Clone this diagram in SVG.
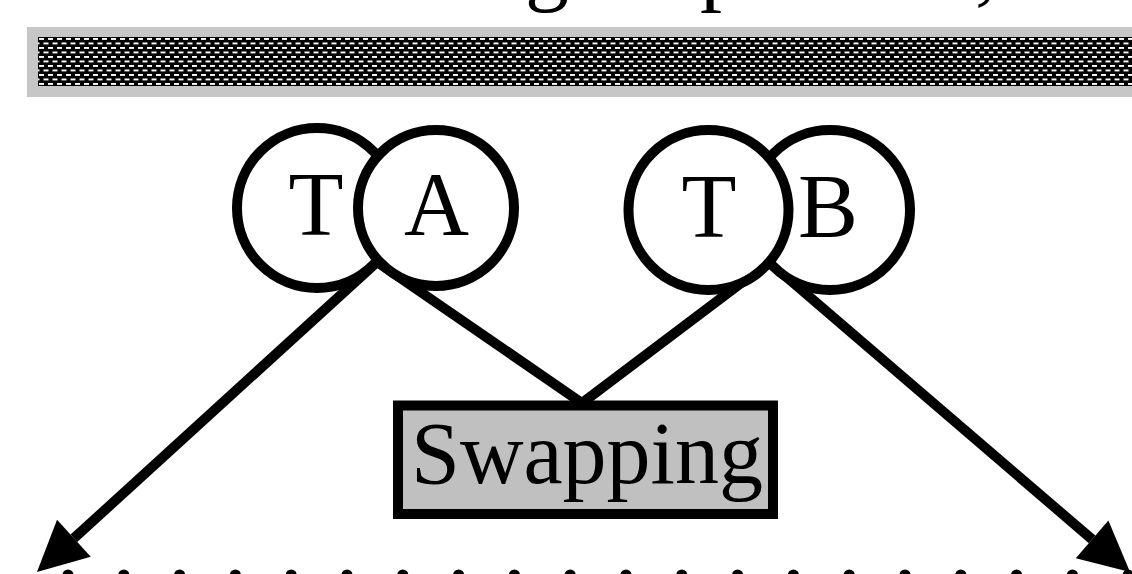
<svg xmlns="http://www.w3.org/2000/svg" width="1132" height="574" viewBox="0 0 1132 574">
  <style>
    .lbl { font-family: "Liberation Serif", "Times New Roman", serif; fill: #000; text-anchor: middle; }
    .top { font-family: "Liberation Serif", "Times New Roman", serif; fill: #000; font-size: 88px; }
    .circ { fill: #fff; stroke: #000; stroke-width: 10; }
    .conn { fill: none; stroke: #000; stroke-width: 10; }
  </style>
  <defs>
    <pattern id="dither" x="38" y="37" width="9" height="9" patternUnits="userSpaceOnUse">
      <rect width="9" height="9" fill="#000"/>
      <rect x="1" y="1" width="5" height="1.9" fill="#fff"/>
      <rect x="5.5" y="5.5" width="5" height="1.9" fill="#fff"/>
      <rect x="-3.5" y="5.5" width="5" height="1.9" fill="#fff"/>
    </pattern>
    <marker id="arrow" markerUnits="userSpaceOnUse" markerWidth="52" markerHeight="52" refX="0" refY="26" orient="auto" overflow="visible">
      <path d="M0,1 L50,26 L0,51 Z" fill="#000"/>
    </marker>
  </defs>
  <rect width="1132" height="574" fill="#fff"/>

  <g id="title">
    <text class="top" x="525" y="-6">g</text>
    <text class="top" x="700" y="-6">p</text>
    <text class="top" x="975" y="-6">,</text>
  </g>

  <g id="banner">
    <rect x="27" y="27" width="1110" height="70" fill="#c6c6c6"/>
    <rect x="38" y="37" width="1100" height="49" fill="url(#dither)"/>
  </g>

  <g id="dotted-line">
    <line x1="68" y1="575" x2="1130" y2="575" stroke="#000" stroke-width="11" stroke-linecap="round" stroke-dasharray="0 55.8"/>
  </g>

  <g id="connectors">
    <line class="conn" x1="377" y1="262" x2="73.9" y2="538.3" marker-end="url(#arrow)"/>
    <line class="conn" x1="769" y1="262" x2="1092.1" y2="539.4" marker-end="url(#arrow)"/>
    <path class="conn" d="M377,262 L582,403 L769,262" stroke-linejoin="miter"/>
  </g>

  <g id="node-T1">
    <circle class="circ" cx="317" cy="208" r="80"/>
    <text class="lbl" x="316" y="235" font-size="90">T</text>
  </g>
  <g id="node-A">
    <circle class="circ" cx="436" cy="208" r="78"/>
    <text class="lbl" x="436.5" y="235" font-size="90">A</text>
  </g>
  <g id="node-B">
    <circle class="circ" cx="830" cy="210" r="80"/>
    <text class="lbl" x="828" y="237" font-size="90">B</text>
  </g>
  <g id="node-T2">
    <circle class="circ" cx="708.5" cy="210" r="80"/>
    <text class="lbl" x="709" y="237" font-size="90">T</text>
  </g>

  <g id="node-swapping">
    <rect x="398" y="405.5" width="375" height="108.5" fill="#c0c0c0" stroke="#000" stroke-width="10"/>
    <text class="lbl" x="587" y="483" font-size="88">Swapping</text>
  </g>
</svg>
